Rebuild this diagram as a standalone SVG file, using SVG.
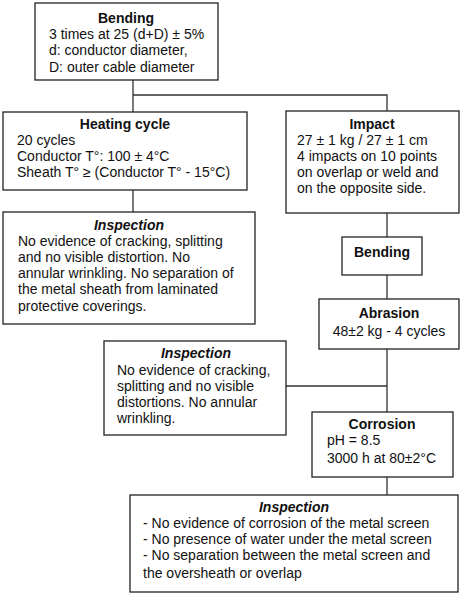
<svg xmlns="http://www.w3.org/2000/svg" width="471" height="600" viewBox="0 0 471 600">
<style>
.box{fill:#fff;stroke:#222;stroke-width:1.3}
.ln{fill:none;stroke:#333;stroke-width:1.3}
text{font-family:"Liberation Sans",Arial,sans-serif;font-size:14px;fill:#111}
.t{font-weight:bold;text-anchor:middle}
.ti{font-weight:bold;font-style:italic;text-anchor:middle}
</style>
<rect width="471" height="600" fill="#fff"/>
<g id="connectors">
<path class="ln" d="M133,80 V112 M133,95 H387 V111"/>
<path class="ln" d="M133,190 V212"/>
<path class="ln" d="M387,213 V237 M387,275 V299 M387,349 V412 M286,386 H387 M387,477 V495"/>
</g>
<g id="bending1">
<rect class="box" x="35" y="3" width="183" height="77"/>
<text class="t" x="126" y="23">Bending</text>
<text x="49" y="39">3 times at 25 (d+D) ± 5%</text>
<text x="49" y="55">d: conductor diameter,</text>
<text x="49" y="72">D: outer cable diameter</text>
</g>
<g id="heating">
<rect class="box" x="3" y="112" width="244" height="78"/>
<text class="t" x="125" y="129">Heating cycle</text>
<text x="17" y="145">20 cycles</text>
<text x="17" y="161">Conductor T°: 100 ± 4°C</text>
<text x="17" y="177">Sheath T° ≥ (Conductor T° - 15°C)</text>
</g>
<g id="impact">
<rect class="box" x="286" y="111" width="173" height="102"/>
<text class="t" x="372" y="129">Impact</text>
<text x="297" y="145">27 ± 1 kg / 27 ± 1 cm</text>
<text x="297" y="161">4 impacts on 10 points</text>
<text x="297" y="177">on overlap or weld and</text>
<text x="297" y="193">on the opposite side.</text>
</g>
<g id="inspection1">
<rect class="box" x="3" y="212" width="252" height="112"/>
<text class="ti" x="129" y="230">Inspection</text>
<text x="18" y="246">No evidence of cracking, splitting</text>
<text x="18" y="262">and no visible distortion.  No</text>
<text x="18" y="278">annular wrinkling. No separation of</text>
<text x="18" y="294">the metal sheath from laminated</text>
<text x="18" y="311">protective coverings.</text>
</g>
<g id="bending2">
<rect class="box" x="342" y="237" width="80" height="38"/>
<text class="t" x="382" y="257">Bending</text>
</g>
<g id="abrasion">
<rect class="box" x="319" y="299" width="140" height="50"/>
<text class="t" x="389" y="318">Abrasion</text>
<text x="389" y="336" text-anchor="middle">48±2 kg - 4 cycles</text>
</g>
<g id="inspection2">
<rect class="box" x="104" y="341" width="182" height="94"/>
<text class="ti" x="196" y="358">Inspection</text>
<text x="117" y="375">No evidence of cracking,</text>
<text x="117" y="391">splitting and no visible</text>
<text x="117" y="407">distortions. No annular</text>
<text x="117" y="423">wrinkling.</text>
</g>
<g id="corrosion">
<rect class="box" x="312" y="412" width="141" height="65"/>
<text class="t" x="382" y="429">Corrosion</text>
<text x="327" y="445">pH = 8.5</text>
<text x="327" y="463">3000 h at 80±2°C</text>
</g>
<g id="inspection3">
<rect class="box" x="130" y="495" width="328" height="97"/>
<text class="ti" x="294" y="512">Inspection</text>
<text x="143" y="528">- No evidence of corrosion of the metal screen</text>
<text x="143" y="544">- No presence of water under the metal screen</text>
<text x="143" y="560">- No separation between the metal screen and</text>
<text x="143" y="578">the oversheath or overlap</text>
</g>
</svg>
